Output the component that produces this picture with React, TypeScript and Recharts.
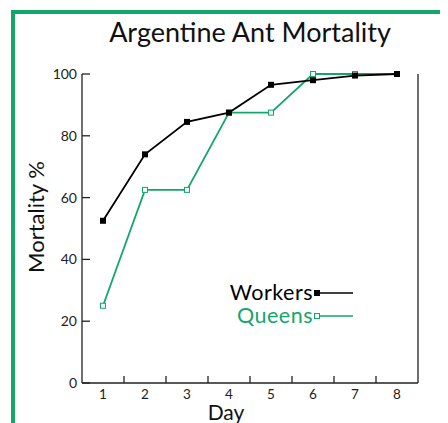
import { LineChart, Line, XAxis, YAxis } from "recharts"

const days = [1, 2, 3, 4, 5, 6, 7, 8]
const workers = [52.5, 74, 84.5, 87.5, 96.5, 98, 99.5, 100]
const queens = [25, 62.5, 62.5, 87.5, 87.5, 100, 100, 100]
const yTicks = [0, 20, 40, 60, 80, 100]
const xTicks = [1, 1.5, 2, 2.5, 3, 3.5, 4, 4.5, 5, 5.5, 6, 6.5, 7, 7.5, 8]

const GREEN = "#12a66a"
const FONT = "Lato, 'Open Sans', sans-serif"

const data = days.map((d, i) => ({ day: d, workers: workers[i], queens: queens[i] }))

const XTick = (props: any) => {
  const { x, y, payload } = props
  const v = payload.value
  if (Number.isInteger(v)) {
    return (
      <text x={x} y={y + 16} textAnchor="middle" fontSize={13.5} fill="#222" fontFamily={FONT}>
        {v}
      </text>
    )
  }
  return <line x1={x} x2={x} y1={y} y2={y - 7} stroke="#222" strokeWidth={1.3} />
}

const YTick = (props: any) => {
  const { x, y, payload } = props
  return (
    <g>
      <line x1={x} x2={x + 8} y1={y} y2={y} stroke="#222" strokeWidth={1.3} />
      <text x={x - 5} y={y} dy="0.35em" textAnchor="end" fontSize={14} fill="#222" fontFamily={FONT}>
        {payload.value}
      </text>
    </g>
  )
}

const RightTick = (props: any) => {
  const { x, y } = props
  return <line x1={x - 8} x2={x} y1={y} y2={y} stroke="#222" strokeWidth={1.3} />
}

const WorkerDot = (p: any) => (
  <rect key={`w${p.index}`} x={p.cx - 3} y={p.cy - 3} width={6} height={6} fill="#000" />
)
const QueenDot = (p: any) => (
  <rect key={`q${p.index}`} x={p.cx - 2.5} y={p.cy - 2.5} width={5} height={5} fill="#f4fbf7" stroke={GREEN} strokeWidth={1} />
)

const legendItems = [
  { name: "Workers", color: "#000", filled: true },
  { name: "Queens", color: GREEN, filled: false },
]

const LegendBox = () => (
  <div style={{ position: "absolute", left: 170, top: 281, width: 183, fontFamily: FONT, fontSize: 21.5 }}>
    {legendItems.map((it) => (
      <div key={it.name} style={{ display: "flex", alignItems: "center", justifyContent: "flex-end", height: 23 }}>
        <span style={{ color: it.color, lineHeight: "19px", height: 19, letterSpacing: 0.5 }}>{it.name}</span>
        <svg width={40} height={10}>
          <line x1={3} x2={40} y1={5} y2={5} stroke={it.color} strokeWidth={1.6} />
          {it.filled ? (
            <rect x={1} y={2} width={6} height={6} fill="#000" />
          ) : (
            <rect x={1.5} y={2.5} width={5} height={5} fill="#f4fbf7" stroke={GREEN} />
          )}
        </svg>
      </div>
    ))}
  </div>
)

export default function App() {
  return (
    <div style={{ position: "relative", width: 448, height: 423, marginTop: -8, marginLeft: -8, background: "#fff" }}>
      <div
        style={{
          position: "absolute",
          left: 11,
          top: 10,
          right: 0,
          bottom: 0,
          borderLeft: `4px solid ${GREEN}`,
          borderTop: `4px solid ${GREEN}`,
        }}
      />
      <div
        style={{
          position: "absolute",
          left: 50,
          width: 400,
          top: 15,
          textAlign: "center",
          fontFamily: FONT,
          fontSize: 27,
          color: "#111",
        }}
      >
        Argentine Ant Mortality
      </div>
      <div
        style={{
          position: "absolute",
          left: 36 - 75,
          top: 217 - 14,
          width: 150,
          height: 28,
          lineHeight: "28px",
          textAlign: "center",
          transform: "rotate(-90deg)",
          fontFamily: FONT,
          fontSize: 22,
          color: "#111",
        }}
      >
        Mortality %
      </div>
      <div
        style={{
          position: "absolute",
          left: 176,
          width: 100,
          top: 401,
          height: 21,
          lineHeight: "21px",
          textAlign: "center",
          fontFamily: FONT,
          fontSize: 21,
          color: "#111",
        }}
      >
        Day
      </div>
      <div style={{ position: "absolute", left: 0, top: 0 }}>
        <LineChart width={448} height={423} data={data} margin={{ top: 74, right: 0, bottom: 10, left: 22 }}>
          <XAxis
            dataKey="day"
            type="number"
            domain={[0.5, 8.5]}
            ticks={xTicks}
            interval={0}
            tickSize={0}
            tickMargin={0}
            tickLine={false}
            tick={<XTick />}
            height={30}
            axisLine={{ stroke: "#222", strokeWidth: 1.3 }}
          />
          <YAxis
            yAxisId="left"
            type="number"
            domain={[0, 100]}
            ticks={yTicks}
            interval={0}
            tickSize={0}
            tickMargin={0}
            tickLine={false}
            tick={<YTick />}
            width={60}
            axisLine={{ stroke: "#222", strokeWidth: 1.3 }}
          />
          <YAxis
            yAxisId="right"
            orientation="right"
            type="number"
            domain={[0, 100]}
            ticks={[100]}
            tickSize={0}
            tickMargin={0}
            tickLine={false}
            tick={<RightTick />}
            width={30}
            axisLine={{ stroke: "#222", strokeWidth: 1.3 }}
          />
          <Line
            yAxisId="left"
            dataKey="queens"
            stroke={GREEN}
            strokeWidth={1.8}
            dot={QueenDot}
            isAnimationActive={false}
          />
          <Line
            yAxisId="left"
            dataKey="workers"
            stroke="#000"
            strokeWidth={1.8}
            dot={WorkerDot}
            isAnimationActive={false}
          />
        </LineChart>
      </div>
      <LegendBox />
    </div>
  )
}
